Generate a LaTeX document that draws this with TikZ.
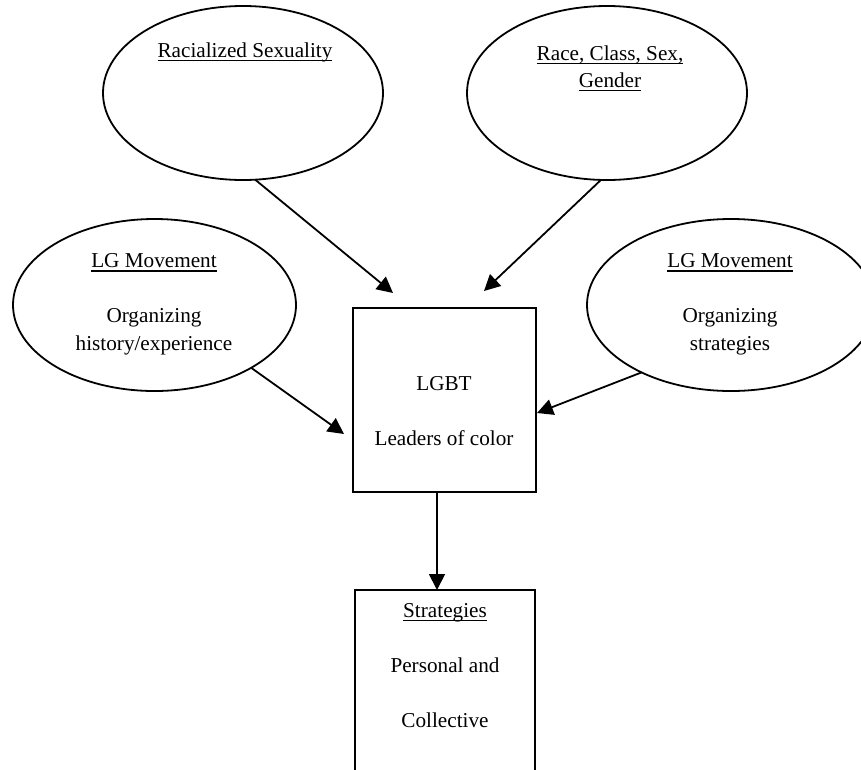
\documentclass[tikz,border=0pt]{standalone}
\usepackage{fontspec}
\setmainfont{Liberation Serif}
\usetikzlibrary{shapes.geometric,arrows.meta}
\newcommand{\undertext}[1]{\setbox0\hbox{#1}\rlap{\rule[-0.2em]{\wd0}{0.06em}}#1}

\begin{document}
\begin{tikzpicture}[x=1pt,y=-1pt,line width=1.8pt,
    every node/.style={font=\fontsize{21.2}{27.5}\selectfont,outer sep=0pt},
    bubble/.style={draw,ellipse,inner sep=0pt},
    txt/.style={anchor=base,align=center},
    pointer/.style={-{Triangle[length=16pt,width=16pt]}}]
		\useasboundingbox (0,0) rectangle (861,769);
		\clip (0,0) rectangle (861,769);
		% shapes
		\node[bubble,minimum width=280pt,minimum height=174pt] (sexual) at (243,93) {};
		\node[bubble,minimum width=280pt,minimum height=174pt] (race) at (607,93) {};
		\node[bubble,minimum width=283pt,minimum height=172pt] (lgHist) at (154.5,305) {};
		\node[bubble,minimum width=288pt,minimum height=172pt] (lgStrat) at (731,305) {};
		\node[draw,minimum width=183pt,minimum height=184pt,inner sep=0pt] (lead) at (444.5,400) {};
		\node[draw,minimum width=180pt,minimum height=220pt,inner sep=0pt,anchor=north] (strat) at (445,590) {};
		% texts (placed at the baseline of their last line)
		\node[txt] (sexualT) at (245,57) {\undertext{Racialized Sexuality}};
		\node[txt] (raceT) at (610,87) {\undertext{Race, Class, Sex,}\\[-0.5pt]\undertext{Gender}};
		\node[txt] (lgHistT) at (154,350) {\undertext{LG Movement}\\[27.5pt]Organizing\\history/experience};
		\node[txt] (lgStratT) at (730,350) {\undertext{LG Movement}\\[27.5pt]Organizing\\strategies};
		\node[txt] (leadT) at (444,445) {LGBT\\[27.5pt]Leaders of color};
		\node[txt] (stratT) at (445,727) {\undertext{Strategies}\\[27.5pt]Personal and\\[27.5pt]Collective};
		%
		\coordinate (sexualTip) at (393,293);
		\coordinate (raceTip) at (484,291);
		\coordinate (lgHistTip) at (344,434);
		\coordinate (lgStratTip) at (537,413);
		\path[pointer]
		(sexual.-82) edge (sexualTip)
		(race.266.7) edge (raceTip)
		(lgHist.-33.4) edge (lgHistTip)
		(lgStrat.217.4) edge (lgStratTip)
		([xshift=-7.5pt]lead.south) edge ([xshift=-7.5pt]lead.south |- strat.north);
		\end{tikzpicture}
\end{document}
